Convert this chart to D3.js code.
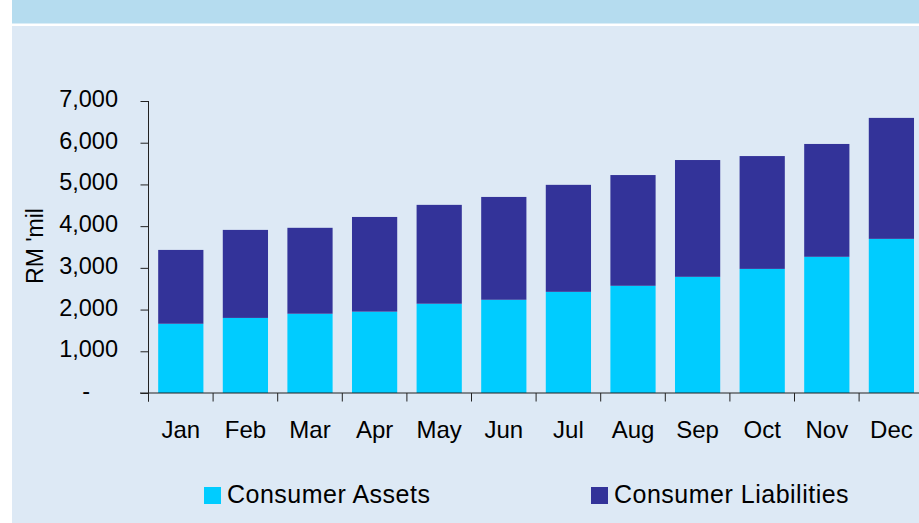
<!DOCTYPE html>
<html>
<head>
<meta charset="utf-8">
<script src="https://d3js.org/d3.v7.min.js"></script>
<style>
  body { margin: 0; background: #fff; }
  svg { display: block; font-family: "Liberation Sans", Arial, sans-serif; }
</style>
</head>
<body>
<div id="chart"></div>
<script>
// data
const months = ["Jan", "Feb", "Mar", "Apr", "May", "Jun", "Jul", "Aug", "Sep", "Oct", "Nov", "Dec"];
const assets = [1660, 1800, 1900, 1950, 2140, 2235, 2425, 2570, 2785, 2975, 3265, 3695];
const liabilities = [1770, 2110, 2060, 2270, 2370, 2465, 2565, 2655, 2800, 2705, 2705, 2900];
const yTicks = [0, 1000, 2000, 3000, 4000, 5000, 6000, 7000];
const yTickLabels = ["-", "1,000", "2,000", "3,000", "4,000", "5,000", "6,000", "7,000"];
const seriesNames = ["Consumer Assets", "Consumer Liabilities"];
const seriesColors = ["#00ccff", "#333399"];

let width = 919, height = 523;

let svg = d3.select("#chart")
    .append("svg")
    .attr("width", width)
    .attr("height", height);

// background: top band + light panel
svg.append("rect")
    .attr("x", 12).attr("y", 0)
    .attr("width", width - 12).attr("height", 23.5)
    .attr("fill", "#b5dcef");
svg.append("rect")
    .attr("x", 12).attr("y", 26)
    .attr("width", width - 12).attr("height", height - 26)
    .attr("fill", "#dde9f5");

// scales
let x = d3.scaleBand()
    .domain(months)
    .range([148.5, 923.7])
    .paddingInner(0.3)
    .paddingOuter(0.15);

let y = d3.scaleLinear()
    .domain([0, 7000])
    .range([393, 101]);

// stack the two series
let rows = months.map((m, i) => ({month: m, assets: assets[i], liabilities: liabilities[i]}));
let stacked = d3.stack().keys(["assets", "liabilities"])(rows);

svg.append("g")
    .selectAll("g")
    .data(stacked)
    .enter()
    .append("g")
    .attr("fill", (d, i) => seriesColors[i])
    .selectAll("rect")
    .data(d => d)
    .enter()
    .append("rect")
    .attr("x", d => x(d.data.month))
    .attr("y", d => y(d[1]))
    .attr("width", x.bandwidth())
    .attr("height", d => y(d[0]) - y(d[1]));

// y axis
let yAxis = svg.append("g")
    .attr("transform", "translate(148.5,0)")
    .call(d3.axisLeft(y).tickValues(yTicks).tickSize(8).tickFormat(""));
yAxis.select(".domain").remove();
yAxis.selectAll(".tick line").attr("stroke", "#222");
svg.append("line")
    .attr("x1", 148.5).attr("x2", 148.5)
    .attr("y1", y(7000)).attr("y2", 401.5)
    .attr("stroke", "#222");

svg.append("g")
    .selectAll("text")
    .data(yTicks)
    .enter()
    .append("text")
    .attr("x", (d, i) => i === 0 ? 90 : 118)
    .attr("y", d => y(d) + 6)
    .attr("text-anchor", "end")
    .style("font-size", "23.5px")
    .attr("fill", "#000")
    .text((d, i) => yTickLabels[i]);

// x axis
svg.append("line")
    .attr("x1", 140).attr("x2", width)
    .attr("y1", 393).attr("y2", 393)
    .attr("stroke", "#222");

let step = x.step();
svg.append("g")
    .selectAll("line")
    .data(months)
    .enter()
    .append("line")
    .attr("x1", d => x(d) - step * 0.15)
    .attr("x2", d => x(d) - step * 0.15)
    .attr("y1", 393).attr("y2", 401.5)
    .attr("stroke", "#222");

svg.append("g")
    .selectAll("text")
    .data(months)
    .enter()
    .append("text")
    .attr("x", d => x(d) + x.bandwidth() / 2)
    .attr("y", 438)
    .attr("text-anchor", "middle")
    .style("font-size", "24px")
    .text(d => d);

// y axis title
svg.append("text")
    .attr("transform", "translate(43,246) rotate(-90)")
    .attr("text-anchor", "middle")
    .style("font-size", "23px")
    .text("RM 'mil");

// legend
let legendX = [204, 591];
let legend = svg.append("g")
    .selectAll("g")
    .data(seriesNames)
    .enter()
    .append("g")
    .attr("transform", (d, i) => `translate(${legendX[i]}, 487)`);

legend.append("rect")
    .attr("width", 17).attr("height", 17)
    .attr("fill", (d, i) => seriesColors[i]);

legend.append("text")
    .attr("x", 23)
    .attr("y", 16)
    .style("font-size", "25px")
    .style("letter-spacing", "0.5px")
    .text(d => d);
</script>
</body>
</html>
